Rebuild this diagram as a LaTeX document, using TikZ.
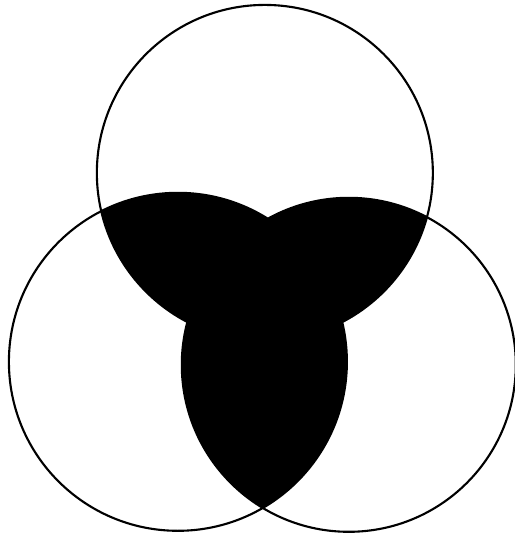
\documentclass[tikz,border=0pt]{standalone}
\begin{document}
\begin{tikzpicture}[scale=0.01, line width=0.6pt]
    \useasboundingbox (0,0) rectangle (515,-540);

    \coordinate (top) at (265,-173);
    \coordinate (lft) at (178,-362);
    \coordinate (rgt) at (349,-365);

    % pairwise overlaps
    \begin{scope}
        \clip (top) circle (168);
        \fill (lft) circle (169);
        \fill (rgt) circle (167);
    \end{scope}
    \begin{scope}
        \clip (lft) circle (169);
        \fill (rgt) circle (167);
    \end{scope}

    \draw (top) circle (168);
    \draw (lft) circle (169);
    \draw (rgt) circle (167);
\end{tikzpicture}
\end{document}
